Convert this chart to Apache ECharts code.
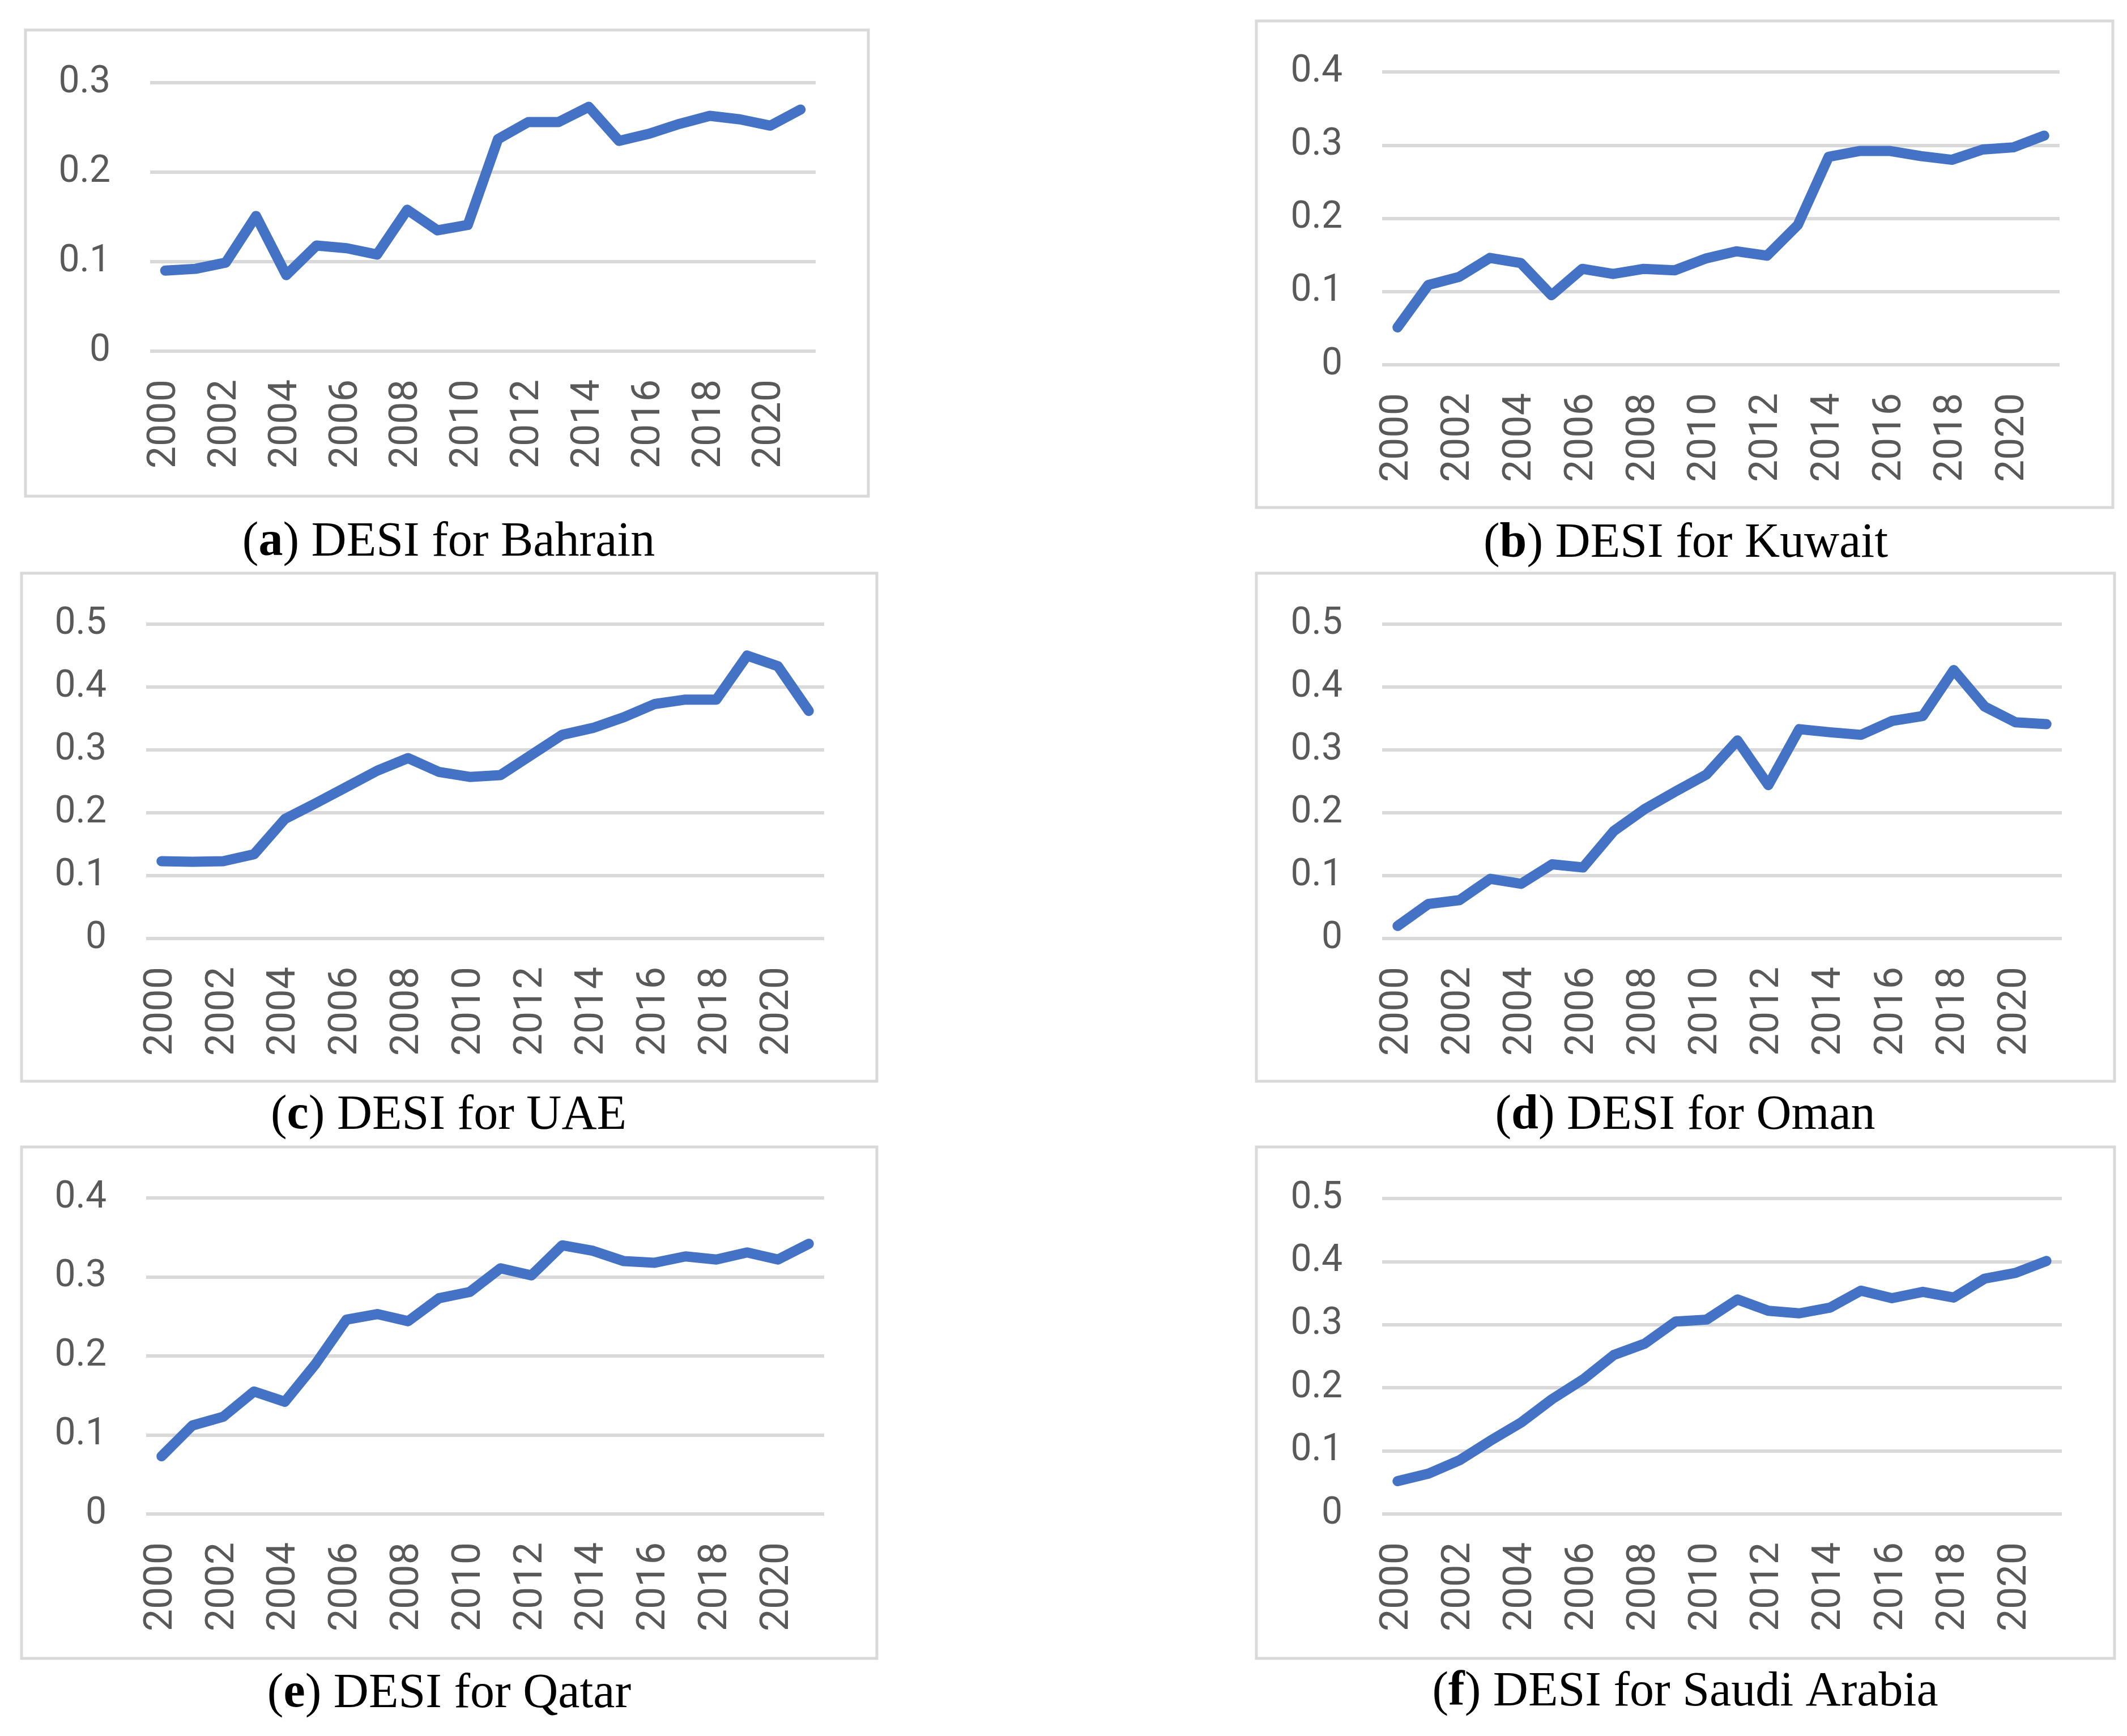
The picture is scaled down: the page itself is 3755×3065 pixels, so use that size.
<!DOCTYPE html>
<html>
<head>
<meta charset="utf-8">
<script src="https://cdn.jsdelivr.net/npm/echarts@6/dist/echarts.min.js"></script>
<style>
html,body{margin:0;padding:0;background:#fff;}
#c{width:3755px;height:3065px;}
</style>
</head>
<body>
<div id="c"></div>
<script>
const years = ['2000','2001','2002','2003','2004','2005','2006','2007','2008','2009','2010','2011','2012','2013','2014','2015','2016','2017','2018','2019','2020','2021'];
const bahrain = [0.090,0.092,0.099,0.151,0.085,0.118,0.115,0.108,0.158,0.135,0.141,0.237,0.256,0.256,0.273,0.235,0.243,0.254,0.263,0.259,0.252,0.270];
const kuwait  = [0.051,0.109,0.120,0.146,0.139,0.095,0.131,0.124,0.131,0.129,0.145,0.155,0.149,0.191,0.284,0.292,0.292,0.285,0.280,0.294,0.297,0.313];
const uae     = [0.123,0.122,0.123,0.134,0.190,0.215,0.241,0.267,0.287,0.265,0.257,0.260,0.292,0.324,0.335,0.352,0.373,0.380,0.380,0.450,0.433,0.362];
const oman    = [0.020,0.055,0.061,0.095,0.087,0.118,0.113,0.171,0.206,0.234,0.261,0.315,0.244,0.333,0.328,0.324,0.346,0.354,0.427,0.369,0.344,0.341];
const qatar   = [0.073,0.112,0.123,0.155,0.142,0.190,0.246,0.253,0.244,0.273,0.281,0.311,0.302,0.340,0.333,0.320,0.318,0.326,0.322,0.331,0.322,0.342];
const saudi   = [0.052,0.064,0.085,0.116,0.145,0.182,0.213,0.252,0.270,0.305,0.308,0.340,0.322,0.318,0.327,0.354,0.342,0.352,0.343,0.373,0.382,0.401];
const axisMax = [0.3, 0.4, 0.5, 0.5, 0.4, 0.5];
const letters = ['a','b','c','d','e','f'];
const countries = ['Bahrain','Kuwait','UAE','Oman','Qatar','Saudi Arabia'];
const seriesData = [bahrain, kuwait, uae, oman, qatar, saudi];

// layout (pixels)
const grids = [
  {left:265, top:146, width:1175, height:474},
  {left:2440, top:127, width:1196, height:517},
  {left:258, top:1102, width:1197, height:555},
  {left:2440, top:1102, width:1200, height:555},
  {left:258, top:2115, width:1197, height:558},
  {left:2440, top:2116, width:1200, height:557}
];
const boxes = [
  {x:45, y:53, w:1488, h:823},
  {x:2218, y:37, w:1512, h:859},
  {x:38, y:1012, w:1510, h:897},
  {x:2218, y:1012, w:1515, h:897},
  {x:38, y:2025, w:1510, h:903},
  {x:2218, y:2025, w:1515, h:903}
];
const captions = [
  {x:792, y:958},
  {x:2976, y:960},
  {x:792, y:1970},
  {x:2975, y:1970},
  {x:793, y:2991},
  {x:2975, y:2988}
];

const chart = echarts.init(document.getElementById('c'), null, {renderer:'canvas'});
const labelColor = '#595959';
const option = {
  animation:false,
  backgroundColor:'#ffffff',
  grid: grids.map(g => Object.assign({outerBoundsMode:'none', containLabel:false}, g)),
  xAxis: grids.map((g,i) => ({
    type:'category', gridIndex:i, data:years, boundaryGap:true,
    axisLine:{show:false}, axisTick:{show:false}, splitLine:{show:false},
    axisLabel:{interval:1, rotate:90, margin:50, fontFamily:'Roboto', fontSize:70, color:labelColor}
  })),
  yAxis: grids.map((g,i) => ({
    type:'value', gridIndex:i, min:0, max:axisMax[i], interval:0.1,
    axisLine:{show:false}, axisTick:{show:false},
    splitLine:{show:true, lineStyle:{color:'#D9D9D9', width:6}},
    axisLabel:{margin:70, fontFamily:'Roboto', fontSize:66, color:labelColor,
      formatter: v => (Math.abs(v) < 1e-9 ? '0' : v.toFixed(1))}
  })),
  series: seriesData.map((d,i) => ({
    type:'line', xAxisIndex:i, yAxisIndex:i, data:d, symbol:'none',
    lineStyle:{color:'#4472C4', width:18, cap:'round', join:'round'}
  })),
  graphic: boxes.map(b => ({
    type:'rect', shape:{x:b.x, y:b.y, width:b.w, height:b.h},
    style:{fill:'none', stroke:'#D9D9D9', lineWidth:5}, z:-1
  })).concat(captions.map((c,i) => ({
    type:'text', x:c.x, y:c.y,
    style:{
      text:'{n|(}{b|' + letters[i] + '}{n|) DESI for ' + countries[i] + '}',
      align:'center', verticalAlign:'middle',
      rich:{
        n:{fontFamily:'Liberation Serif', fontSize:86, fill:'#000', color:'#000'},
        b:{fontFamily:'Liberation Serif', fontSize:86, fontWeight:'bold', fill:'#000', color:'#000'}
      }
    }
  })))
};
chart.setOption(option);
</script>
</body>
</html>
